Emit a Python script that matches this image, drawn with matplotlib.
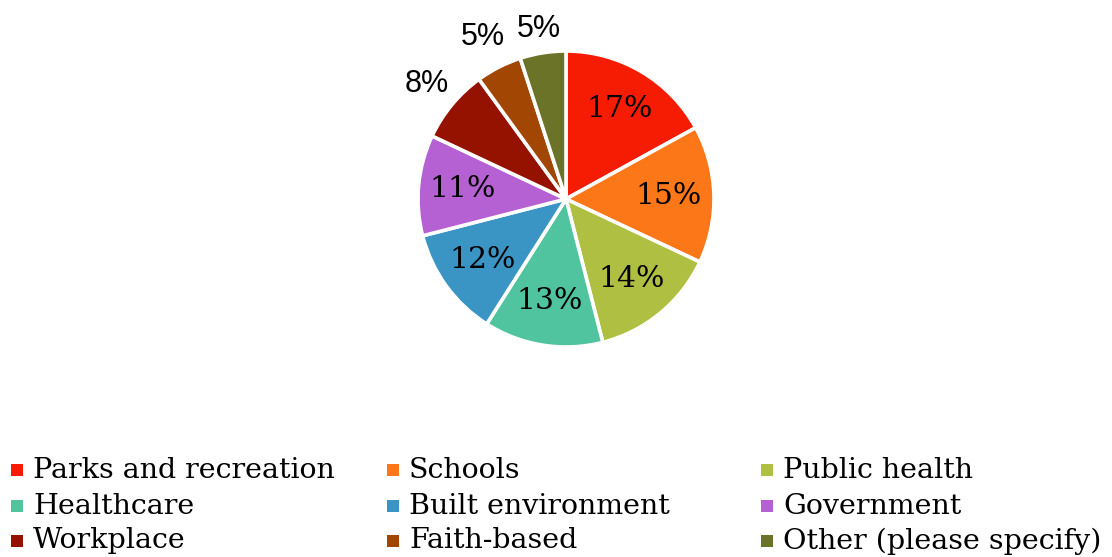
import numpy as np
import matplotlib
matplotlib.use("Agg")
import matplotlib.pyplot as plt
from matplotlib.patches import Rectangle

categories = [
    "Parks and recreation",
    "Schools",
    "Public health",
    "Healthcare",
    "Built environment",
    "Government",
    "Workplace",
    "Faith-based",
    "Other (please specify)",
]
shares = [17, 15, 14, 13, 12, 11, 8, 5, 5]

COLORS = [
    "#f61c03",
    "#fc7718",
    "#afbf41",
    "#50c49f",
    "#3b95c4",
    "#b561d4",
    "#951100",
    "#a24604",
    "#6a7328",
]

W, H = 1112, 557
fig = plt.figure(figsize=(W / 100, H / 100), dpi=100)

# pie area, placed in pixel terms
cx, cy, r = 566, 199, 148
ax = fig.add_axes([(cx - r) / W, (H - cy - r) / H, 2 * r / W, 2 * r / H])
wedges, _ = ax.pie(
    shares,
    colors=COLORS,
    startangle=90,
    counterclock=False,
    radius=1,
    wedgeprops=dict(edgecolor="white", linewidth=2.6),
)
ax.set_xlim(-1, 1)
ax.set_ylim(-1, 1)
ax.set_aspect("equal")
ax.axis("off")

# inside labels for the big slices, outside for the small ones
label_dist = [0.71, 0.69, 0.7, 0.7, 0.7, 0.7, 1.22, 1.23, 1.16]
for w, val, d in zip(wedges, shares, label_dist):
    ang = np.deg2rad((w.theta1 + w.theta2) / 2)
    x, y = d * np.cos(ang), d * np.sin(ang)
    if d < 1:
        ax.text(x, y, f"{val}%", ha="center", va="center",
                fontsize=21.5, family="DejaVu Serif", color="black")
    else:
        ax.text(x, y, f"{val}%", ha="center", va="center",
                fontsize=22, family="Liberation Sans", color="black")

# legend laid out row by row, three fixed-width columns
col_x = [17, 393, 767]
row_y = [470, 506, 541]
sq = 12
for i, (name, col) in enumerate(zip(categories, COLORS)):
    px = col_x[i % 3]
    py = row_y[i // 3]
    fig.add_artist(Rectangle(((px - sq / 2) / W, (H - py - sq / 2) / H),
                             sq / W, sq / H, transform=fig.transFigure,
                             facecolor=col, edgecolor="none"))
    fig.text((px + 16) / W, (H - py) / H, name, ha="left", va="center",
             fontsize=20.5, family="DejaVu Serif", color="black")

fig.savefig("out.png", dpi=100)
